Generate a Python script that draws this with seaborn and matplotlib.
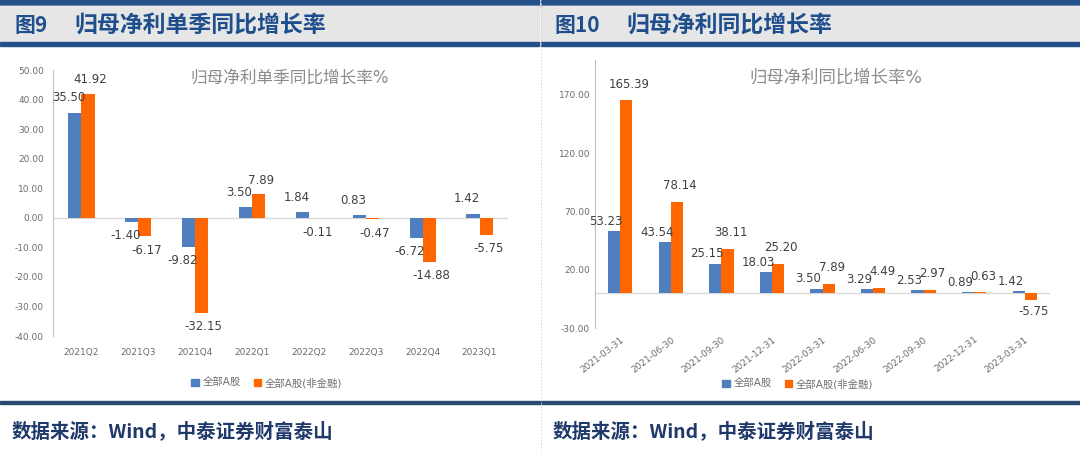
import matplotlib
matplotlib.use("Agg")
import matplotlib.pyplot as plt
from matplotlib.patches import Rectangle, Patch
from matplotlib.lines import Line2D
import seaborn as sns
import pandas as pd

# ---- data ----
series_names = ["全部A股", "全部A股(非金融)"]

quarters = ["2021Q2", "2021Q3", "2021Q4", "2022Q1", "2022Q2", "2022Q3", "2022Q4", "2023Q1"]
q_all = [35.50, -1.40, -9.82, 3.50, 1.84, 0.83, -6.72, 1.42]
q_nonfin = [41.92, -6.17, -32.15, 7.89, -0.11, -0.47, -14.88, -5.75]

dates = ["2021-03-31", "2021-06-30", "2021-09-30", "2021-12-31", "2022-03-31",
         "2022-06-30", "2022-09-30", "2022-12-31", "2023-03-31"]
d_all = [53.23, 43.54, 25.15, 18.03, 3.50, 3.29, 2.53, 0.89, 1.42]
d_nonfin = [165.39, 78.14, 38.11, 25.20, 7.89, 4.49, 2.97, 0.63, -5.75]

left_yticks = [50, 40, 30, 20, 10, 0, -10, -20, -30, -40]
right_yticks = [170, 120, 70, 20, -30]

BLUE = "#4F7FBE"
ORANGE = "#FF6600"
NAVY = "#1F4E8C"
TXT = "#404040"
TICK = "#6b6b6b"

sns.set_style("white")
plt.rcParams["font.family"] = ["DejaVu Sans", "Noto Sans CJK SC"]

W, H = 1080, 451
fig = plt.figure(figsize=(W / 100, H / 100), dpi=100)


def fx(px):
    return px / W


def fy(py):
    return 1 - py / H


# header bands and separators
for x0 in (0, 541):
    fig.patches.append(Rectangle((fx(x0), fy(3.5)), fx(539), 3.5 / H, transform=fig.transFigure,
                                 color="#24508A", zorder=0))
    fig.patches.append(Rectangle((fx(x0), fy(6.5)), fx(539), 2 / H, transform=fig.transFigure,
                                 color="#4F73A3", zorder=0))
    fig.patches.append(Rectangle((fx(x0), fy(42)), fx(539), 35.5 / H, transform=fig.transFigure,
                                 color="#E6E6E6", zorder=0))
    fig.patches.append(Rectangle((fx(x0), fy(45.5)), fx(539), 3.5 / H, transform=fig.transFigure,
                                 color="#24508A", zorder=0))
fig.patches.append(Rectangle((0, fy(403.5)), 1, 3 / H, transform=fig.transFigure,
                             color="#2B4A6F", zorder=0))
fig.add_artist(Line2D([fx(540.5), fx(540.5)], [0, 1], transform=fig.transFigure,
                      color="#d0d0d0", lw=0.6, ls=(0, (2, 2))))

hdr = dict(color=NAVY, fontweight="bold", va="center", family=["Noto Sans CJK SC", "DejaVu Sans"])
fig.text(fx(15), fy(25), "图9", fontsize=15, **hdr)
fig.text(fx(74), fy(25), "归母净利单季同比增长率", fontsize=16.5, **hdr)
fig.text(fx(555), fy(25), "图10", fontsize=15, **hdr)
fig.text(fx(626), fy(25), "归母净利同比增长率", fontsize=16.5, **hdr)

src = dict(color="#1F3A6A", fontweight="bold", va="center", fontsize=14,
           family=["Noto Sans CJK SC", "DejaVu Sans"])
fig.text(fx(12), fy(431), "数据来源：Wind，中泰证券财富泰山", **src)
fig.text(fx(553), fy(431), "数据来源：Wind，中泰证券财富泰山", **src)


def bar_chart(ax, cats, s1, s2, width, offsets, rotate):
    df = pd.DataFrame({
        "cat": cats * 2,
        "val": s1 + s2,
        "series": [series_names[0]] * len(cats) + [series_names[1]] * len(cats),
    })
    sns.barplot(data=df, x="cat", y="val", hue="series", palette=[BLUE, ORANGE],
                width=width, ax=ax, legend=False, saturation=1, edgecolor="none")
    for cont, vals, (dx, up, down) in zip(ax.containers, (s1, s2), offsets):
        for bar, v in zip(cont, vals):
            xc = bar.get_x() + bar.get_width() / 2
            dy = up if v >= 0 else -down
            ax.annotate(f"{v:.2f}", (xc, v), xytext=(dx, dy), textcoords="offset pixels",
                        ha="center", va="center", fontsize=8.5, color=TXT)
    ax.axhline(0, color="#d9d9d9", lw=1, zorder=0)
    for s in ("top", "right", "bottom"):
        ax.spines[s].set_visible(False)
    ax.spines["left"].set_color("#bfbfbf")
    ax.spines["left"].set_linewidth(0.8)
    ax.set_xlabel("")
    ax.set_ylabel("")
    ax.tick_params(axis="y", length=3, color="#bfbfbf", labelsize=6.5, labelcolor=TICK)
    ax.tick_params(axis="x", length=0, labelsize=6.5, labelcolor=TICK)
    if rotate:
        for lbl in ax.get_xticklabels():
            lbl.set_rotation(38)
            lbl.set_ha("right")
            lbl.set_rotation_mode("anchor")


# left chart
ax1 = fig.add_axes([fx(53), fy(336), fx(508 - 53), (336 - 70) / H])
bar_chart(ax1, quarters, q_all, q_nonfin, 0.46, [(-6, 15, 14), (2, 14, 14)], False)
ax1.set_ylim(-40, 50)
ax1.set_xlim(-0.5, len(quarters) - 0.5)
ax1.set_yticks(left_yticks)
ax1.set_yticklabels([f"{t:.2f}" for t in left_yticks])
ax1.tick_params(axis="x", pad=9)
ax1.text(0.52, 0.97, "归母净利单季同比增长率%", transform=ax1.transAxes, ha="center",
         va="center", fontsize=12, color="#8c8c8c")

# right chart
ax2 = fig.add_axes([fx(595), fy(328), fx(1050 - 595), (328 - 60) / H])
bar_chart(ax2, dates, d_all, d_nonfin, 0.48, [(-8, 10, 12), (3, 16, 12)], True)
ax2.set_ylim(-30, 200)
ax2.set_xlim(-0.5, len(dates) - 0.5)
ax2.set_yticks(right_yticks)
ax2.set_yticklabels([f"{t:.2f}" for t in right_yticks])
ax2.tick_params(axis="y", length=0)
ax2.tick_params(axis="x", pad=5)
ax2.text(0.53, 0.935, "归母净利同比增长率%", transform=ax2.transAxes, ha="center",
         va="center", fontsize=12.5, color="#8c8c8c")

handles = [Patch(color=BLUE), Patch(color=ORANGE)]
leg_kw = dict(loc="center", ncol=2, frameon=False, fontsize=7.5, handlelength=0.7,
              handleheight=0.7, columnspacing=1.2, handletextpad=0.4, labelcolor="#707070")
fig.legend(handles, series_names, bbox_to_anchor=(fx(267), fy(383)), **leg_kw)
fig.legend(handles, series_names, bbox_to_anchor=(fx(798), fy(384)), **leg_kw)

fig.savefig("out.png", dpi=100)
